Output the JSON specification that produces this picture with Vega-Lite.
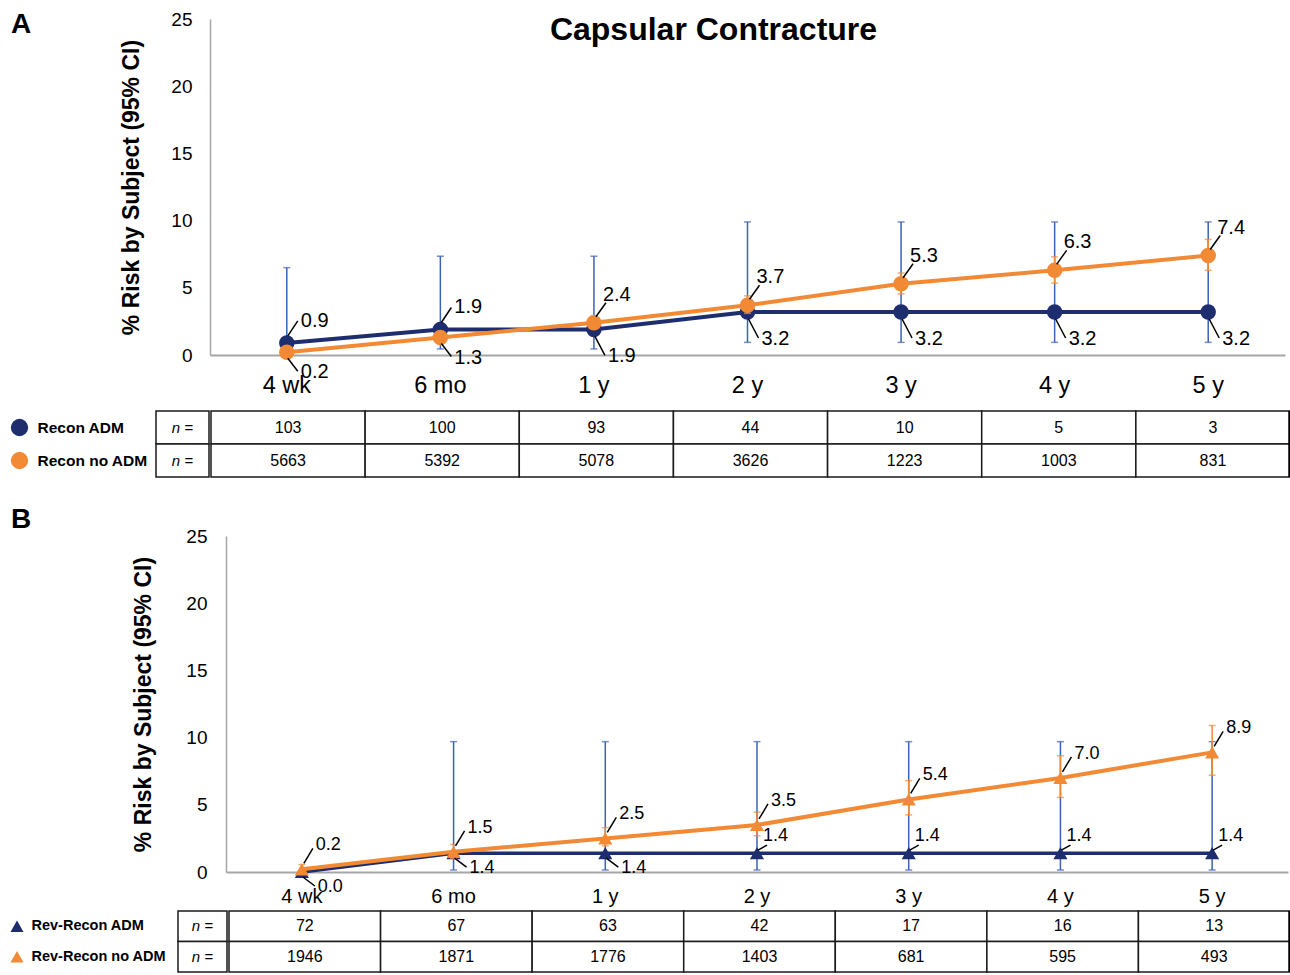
{
  "$schema": "https://vega.github.io/schema/vega-lite/v6.json",
  "padding": {"left": 10, "top": 10, "right": 0, "bottom": 0},
  "autosize": {"type": "pad"},
  "datasets": {
    "riskA": [
      {"period": "4 wk", "series": "Recon ADM", "value": 0.9, "lo": 0.02, "hi": 6.5},
      {"period": "6 mo", "series": "Recon ADM", "value": 1.9, "lo": 0.45, "hi": 7.35},
      {"period": "1 y", "series": "Recon ADM", "value": 1.9, "lo": 0.45, "hi": 7.35},
      {"period": "2 y", "series": "Recon ADM", "value": 3.2, "lo": 0.94, "hi": 9.9},
      {"period": "3 y", "series": "Recon ADM", "value": 3.2, "lo": 0.94, "hi": 9.9},
      {"period": "4 y", "series": "Recon ADM", "value": 3.2, "lo": 0.94, "hi": 9.9},
      {"period": "5 y", "series": "Recon ADM", "value": 3.2, "lo": 0.94, "hi": 9.9},
      {"period": "4 wk", "series": "Recon no ADM", "value": 0.2, "lo": 0.1, "hi": 0.4},
      {"period": "6 mo", "series": "Recon no ADM", "value": 1.3, "lo": 1.0, "hi": 1.7},
      {"period": "1 y", "series": "Recon no ADM", "value": 2.4, "lo": 2.0, "hi": 2.9},
      {"period": "2 y", "series": "Recon no ADM", "value": 3.7, "lo": 3.1, "hi": 4.4},
      {"period": "3 y", "series": "Recon no ADM", "value": 5.3, "lo": 4.55, "hi": 6.1},
      {"period": "4 y", "series": "Recon no ADM", "value": 6.3, "lo": 5.35, "hi": 7.3},
      {"period": "5 y", "series": "Recon no ADM", "value": 7.4, "lo": 6.3, "hi": 8.6}
    ],
    "riskB": [
      {"period": "4 wk", "series": "Rev-Recon ADM", "value": 0.0, "lo": null, "hi": null},
      {"period": "6 mo", "series": "Rev-Recon ADM", "value": 1.4, "lo": 0.15, "hi": 9.7},
      {"period": "1 y", "series": "Rev-Recon ADM", "value": 1.4, "lo": 0.15, "hi": 9.7},
      {"period": "2 y", "series": "Rev-Recon ADM", "value": 1.4, "lo": 0.15, "hi": 9.7},
      {"period": "3 y", "series": "Rev-Recon ADM", "value": 1.4, "lo": 0.15, "hi": 9.7},
      {"period": "4 y", "series": "Rev-Recon ADM", "value": 1.4, "lo": 0.15, "hi": 9.7},
      {"period": "5 y", "series": "Rev-Recon ADM", "value": 1.4, "lo": 0.15, "hi": 9.7},
      {"period": "4 wk", "series": "Rev-Recon no ADM", "value": 0.2, "lo": 0.05, "hi": 0.55},
      {"period": "6 mo", "series": "Rev-Recon no ADM", "value": 1.5, "lo": 1.0, "hi": 2.05},
      {"period": "1 y", "series": "Rev-Recon no ADM", "value": 2.5, "lo": 1.95, "hi": 3.3},
      {"period": "2 y", "series": "Rev-Recon no ADM", "value": 3.5, "lo": 2.7, "hi": 4.45},
      {"period": "3 y", "series": "Rev-Recon no ADM", "value": 5.4, "lo": 4.25, "hi": 6.8},
      {"period": "4 y", "series": "Rev-Recon no ADM", "value": 7.0, "lo": 5.55, "hi": 8.65},
      {"period": "5 y", "series": "Rev-Recon no ADM", "value": 8.9, "lo": 7.2, "hi": 10.9}
    ],
    "nA": [
      {"period": "4 wk", "series": "Recon ADM", "n": 103},
      {"period": "6 mo", "series": "Recon ADM", "n": 100},
      {"period": "1 y", "series": "Recon ADM", "n": 93},
      {"period": "2 y", "series": "Recon ADM", "n": 44},
      {"period": "3 y", "series": "Recon ADM", "n": 10},
      {"period": "4 y", "series": "Recon ADM", "n": 5},
      {"period": "5 y", "series": "Recon ADM", "n": 3},
      {"period": "4 wk", "series": "Recon no ADM", "n": 5663},
      {"period": "6 mo", "series": "Recon no ADM", "n": 5392},
      {"period": "1 y", "series": "Recon no ADM", "n": 5078},
      {"period": "2 y", "series": "Recon no ADM", "n": 3626},
      {"period": "3 y", "series": "Recon no ADM", "n": 1223},
      {"period": "4 y", "series": "Recon no ADM", "n": 1003},
      {"period": "5 y", "series": "Recon no ADM", "n": 831}
    ],
    "nB": [
      {"period": "4 wk", "series": "Rev-Recon ADM", "n": 72},
      {"period": "6 mo", "series": "Rev-Recon ADM", "n": 67},
      {"period": "1 y", "series": "Rev-Recon ADM", "n": 63},
      {"period": "2 y", "series": "Rev-Recon ADM", "n": 42},
      {"period": "3 y", "series": "Rev-Recon ADM", "n": 17},
      {"period": "4 y", "series": "Rev-Recon ADM", "n": 16},
      {"period": "5 y", "series": "Rev-Recon ADM", "n": 13},
      {"period": "4 wk", "series": "Rev-Recon no ADM", "n": 1946},
      {"period": "6 mo", "series": "Rev-Recon no ADM", "n": 1871},
      {"period": "1 y", "series": "Rev-Recon no ADM", "n": 1776},
      {"period": "2 y", "series": "Rev-Recon no ADM", "n": 1403},
      {"period": "3 y", "series": "Rev-Recon no ADM", "n": 681},
      {"period": "4 y", "series": "Rev-Recon no ADM", "n": 595},
      {"period": "5 y", "series": "Rev-Recon no ADM", "n": 493}
    ]
  },
  "spacing": 27,
  "vconcat": [
    {
      "spacing": 12,
      "vconcat": [
        {
          "spacing": 84,
          "hconcat": [
            {
              "width": 25, "height": 336,
              "data": {"name": "riskA"},
              "transform": [{"filter": "datum.period == '4 wk' && datum.series == 'Recon ADM'"}],
              "title": {"text": "A", "anchor": "start", "frame": "group", "offset": -19.5, "fontSize": 28, "fontWeight": "bold"},
              "mark": {"type": "rect", "opacity": 0}
            },
            {
              "width": 1075,
              "height": 336,
              "title": {"text": "Capsular Contracture", "anchor": "middle", "frame": "group", "dx": -34, "offset": -37, "fontSize": 32, "fontWeight": "bold"},
              "data": {"name": "riskA"},
              "encoding": {
                "x": {"field": "period", "type": "nominal", "sort": ["4 wk", "6 mo", "1 y", "2 y", "3 y", "4 y", "5 y"], "scale": {"paddingInner": 0, "paddingOuter": 0},
                  "axis": {"title": null, "labelAngle": 0, "labelFontSize": 23.5, "labelPadding": 18, "ticks": false, "domainColor": "#a6a6a6", "domainWidth": 2}},
                "y": {"field": "value", "type": "quantitative", "scale": {"domain": [0, 25]},
                  "axis": {"title": "% Risk by Subject (95% CI)", "titleFontSize": 23, "titleFontWeight": "bold", "titlePadding": 27, "values": [0, 5, 10, 15, 20, 25], "grid": false, "ticks": false, "labelFontSize": 19, "labelPadding": 18, "domainColor": "#a6a6a6", "domainWidth": 1.5}}
              },
              "layer": [
                {"transform": [{"filter": "datum.series == 'Recon ADM'"}], "mark": {"type": "errorbar", "ticks": {"size": 7}, "thickness": 1.5, "color": "#3a63b5"},
                  "encoding": {"y": {"field": "lo", "type": "quantitative", "title": "% Risk by Subject (95% CI)"}, "y2": {"field": "hi"}}},
                {"transform": [{"filter": "datum.series == 'Recon ADM'"}], "mark": {"type": "line", "strokeWidth": 4, "color": "#1d2d6e"}},
                {"transform": [{"filter": "datum.series == 'Recon ADM'"}], "mark": {"type": "point", "filled": true, "opacity": 1, "size": 240, "shape": "circle", "color": "#1d2d6e"}},
                {"transform": [{"filter": "datum.series == 'Recon no ADM'"}], "mark": {"type": "line", "strokeWidth": 4, "color": "#f28a35"}},
                {"transform": [{"filter": "datum.series == 'Recon no ADM'"}], "mark": {"type": "point", "filled": true, "opacity": 1, "size": 240, "shape": "circle", "color": "#f28a35"}},
                {"transform": [{"filter": "datum.series == 'Recon no ADM'"}], "mark": {"type": "errorbar", "ticks": {"size": 7}, "thickness": 1.5, "color": "#f28a35"},
                  "encoding": {"y": {"field": "lo", "type": "quantitative", "title": "% Risk by Subject (95% CI)"}, "y2": {"field": "hi"}}},
                {"transform": [{"filter": "datum.series == 'Recon ADM' && indexof(['4 wk','6 mo'], datum.period) >= 0"}],
                  "mark": {"type": "rule", "color": "black", "strokeWidth": 1.5, "xOffset": 1, "yOffset": -7, "x2Offset": 11, "y2Offset": -22},
                  "encoding": {"x2": {"field": "period"}, "y2": {"field": "value"}}},
                {"transform": [{"filter": "datum.series == 'Recon ADM' && indexof(['4 wk','6 mo'], datum.period) < 0"}],
                  "mark": {"type": "rule", "color": "black", "strokeWidth": 1.5, "xOffset": 1, "yOffset": 7, "x2Offset": 11, "y2Offset": 26},
                  "encoding": {"x2": {"field": "period"}, "y2": {"field": "value"}}},
                {"transform": [{"filter": "datum.series == 'Recon no ADM' && indexof(['4 wk','6 mo'], datum.period) >= 0"}],
                  "mark": {"type": "rule", "color": "black", "strokeWidth": 1.5, "xOffset": 1, "yOffset": 6, "x2Offset": 11, "y2Offset": 19},
                  "encoding": {"x2": {"field": "period"}, "y2": {"field": "value"}}},
                {"transform": [{"filter": "datum.series == 'Recon no ADM' && indexof(['4 wk','6 mo'], datum.period) < 0"}],
                  "mark": {"type": "rule", "color": "black", "strokeWidth": 1.5, "xOffset": 2, "yOffset": -6, "x2Offset": 12, "y2Offset": -20},
                  "encoding": {"x2": {"field": "period"}, "y2": {"field": "value"}}},
                {"transform": [{"filter": "datum.series == 'Recon ADM' && indexof(['4 wk','6 mo'], datum.period) >= 0"}], "mark": {"type": "text", "align": "left", "dx": 14, "dy": -22, "fontSize": 20},
                  "encoding": {"text": {"field": "value", "type": "quantitative", "format": ".1f"}}},
                {"transform": [{"filter": "datum.series == 'Recon ADM' && indexof(['4 wk','6 mo'], datum.period) < 0"}], "mark": {"type": "text", "align": "left", "dx": 14, "dy": 27, "fontSize": 20},
                  "encoding": {"text": {"field": "value", "type": "quantitative", "format": ".1f"}}},
                {"transform": [{"filter": "datum.series == 'Recon no ADM' && indexof(['4 wk','6 mo'], datum.period) >= 0"}], "mark": {"type": "text", "align": "left", "dx": 14, "dy": 20, "fontSize": 20},
                  "encoding": {"text": {"field": "value", "type": "quantitative", "format": ".1f"}}},
                {"transform": [{"filter": "datum.series == 'Recon no ADM' && indexof(['4 wk','6 mo'], datum.period) < 0"}], "mark": {"type": "text", "align": "left", "dx": 9, "dy": -28, "fontSize": 20},
                  "encoding": {"text": {"field": "value", "type": "quantitative", "format": ".1f"}}}
              ]
            }
          ]
        },
        {
          "spacing": 8,
          "hconcat": [
            {
              "width": 17, "height": 66,
              "data": {"name": "nA"},
              "transform": [{"filter": "datum.period == '4 wk'"}],
              "mark": {"type": "point", "filled": true, "opacity": 1, "size": 300, "shape": "circle"},
              "encoding": {
                "y": {"field": "series", "type": "nominal", "sort": ["Recon ADM", "Recon no ADM"], "scale": {"paddingInner": 0, "paddingOuter": 0}, "axis": null},
                "color": {"condition": {"test": "datum.series == 'Recon ADM'", "value": "#1d2d6e"}, "value": "#f28a35"}
              }
            },
            {
              "spacing": 0,
              "hconcat": [
                {
                  "width": 53, "height": 66,
                  "data": {"name": "nA"},
                  "transform": [{"filter": "datum.period == '4 wk'"}],
                  "encoding": {
                    "y": {"field": "series", "type": "nominal", "sort": ["Recon ADM", "Recon no ADM"], "scale": {"paddingInner": 0, "paddingOuter": 0},
                      "axis": {"title": null, "domain": false, "ticks": false, "labelAlign": "left", "labelPadding": 119, "labelFontSize": 15.5, "labelFontWeight": "bold"}}
                  },
                  "layer": [
                    {"mark": {"type": "rect", "fill": "white", "stroke": "#1a1a1a", "strokeWidth": 1.5}},
                    {"mark": {"type": "text", "text": "n =", "fontStyle": "italic", "fontSize": 15}}
                  ]
                },
                {
                  "width": 1079, "height": 66,
                  "data": {"name": "nA"},
                  "layer": [
                    {"mark": {"type": "rect", "fill": "white", "stroke": "#1a1a1a", "strokeWidth": 1.5},
                      "encoding": {
                        "x": {"field": "period", "type": "nominal", "sort": ["4 wk", "6 mo", "1 y", "2 y", "3 y", "4 y", "5 y"], "scale": {"paddingInner": 0, "paddingOuter": 0}, "axis": null},
                        "y": {"field": "series", "type": "nominal", "sort": ["Recon ADM", "Recon no ADM"], "scale": {"paddingInner": 0, "paddingOuter": 0}, "axis": null}
                      }},
                    {"mark": {"type": "text", "fontSize": 16},
                      "encoding": {
                        "x": {"field": "period", "type": "nominal", "sort": ["4 wk", "6 mo", "1 y", "2 y", "3 y", "4 y", "5 y"], "axis": null},
                        "y": {"field": "series", "type": "nominal", "sort": ["Recon ADM", "Recon no ADM"], "axis": null},
                        "text": {"field": "n", "type": "quantitative", "format": "d"}
                      }},
                    {"transform": [{"filter": "datum.period == '5 y' && datum.series == 'Recon ADM'"}],
                      "mark": {"type": "rule", "strokeWidth": 3.5, "color": "black"},
                      "encoding": {"x": {"field": "period", "type": "nominal", "sort": ["4 wk", "6 mo", "1 y", "2 y", "3 y", "4 y", "5 y"], "bandPosition": 1, "axis": null}}}
                  ]
                }
              ]
            }
          ]
        }
      ]
    },
    {
      "spacing": 3,
      "vconcat": [
        {
          "spacing": 96,
          "hconcat": [
            {
              "width": 25, "height": 336,
              "data": {"name": "riskB"},
              "transform": [{"filter": "datum.period == '4 wk' && datum.series == 'Rev-Recon ADM'"}],
              "title": {"text": "B", "anchor": "start", "frame": "group", "offset": 2, "fontSize": 28, "fontWeight": "bold"},
              "mark": {"type": "rect", "opacity": 0}
            },
            {
              "width": 1062,
              "height": 336,
              "data": {"name": "riskB"},
              "encoding": {
                "x": {"field": "period", "type": "nominal", "sort": ["4 wk", "6 mo", "1 y", "2 y", "3 y", "4 y", "5 y"], "scale": {"paddingInner": 0, "paddingOuter": 0},
                  "axis": {"title": null, "labelAngle": 0, "labelFontSize": 20, "labelPadding": 14, "ticks": false, "domainColor": "#a6a6a6", "domainWidth": 2}},
                "y": {"field": "value", "type": "quantitative", "scale": {"domain": [0, 25]},
                  "axis": {"title": "% Risk by Subject (95% CI)", "titleFontSize": 23, "titleFontWeight": "bold", "titlePadding": 30, "values": [0, 5, 10, 15, 20, 25], "grid": false, "ticks": false, "labelFontSize": 19, "labelPadding": 19, "domainColor": "#a6a6a6", "domainWidth": 1.5}}
              },
              "layer": [
                {"transform": [{"filter": "datum.series == 'Rev-Recon ADM' && isValid(datum.lo)"}], "mark": {"type": "errorbar", "ticks": {"size": 7}, "thickness": 1.5, "color": "#3a63b5"},
                  "encoding": {"y": {"field": "lo", "type": "quantitative", "title": "% Risk by Subject (95% CI)"}, "y2": {"field": "hi"}}},
                {"transform": [{"filter": "datum.series == 'Rev-Recon ADM'"}], "mark": {"type": "line", "strokeWidth": 3.5, "color": "#1d2d6e"}},
                {"transform": [{"filter": "datum.series == 'Rev-Recon ADM'"}], "mark": {"type": "point", "filled": true, "opacity": 1, "size": 200, "shape": "triangle-up", "color": "#1d2d6e"}},
                {"transform": [{"filter": "datum.series == 'Rev-Recon no ADM'"}], "mark": {"type": "line", "strokeWidth": 4, "color": "#f28a35"}},
                {"transform": [{"filter": "datum.series == 'Rev-Recon no ADM'"}], "mark": {"type": "point", "filled": true, "opacity": 1, "size": 200, "shape": "triangle-up", "color": "#f28a35"}},
                {"transform": [{"filter": "datum.series == 'Rev-Recon no ADM'"}], "mark": {"type": "errorbar", "ticks": {"size": 7}, "thickness": 1.5, "color": "#f28a35"},
                  "encoding": {"y": {"field": "lo", "type": "quantitative", "title": "% Risk by Subject (95% CI)"}, "y2": {"field": "hi"}}},
                {"transform": [{"filter": "datum.series == 'Rev-Recon ADM' && indexof(['4 wk','6 mo','1 y'], datum.period) >= 0"}],
                  "mark": {"type": "rule", "color": "black", "strokeWidth": 1.5, "xOffset": 1, "yOffset": 5, "x2Offset": 13, "y2Offset": 14},
                  "encoding": {"x2": {"field": "period"}, "y2": {"field": "value"}}},
                {"transform": [{"filter": "datum.series == 'Rev-Recon ADM' && indexof(['4 wk','6 mo','1 y'], datum.period) < 0"}],
                  "mark": {"type": "rule", "color": "black", "strokeWidth": 1.5, "xOffset": 1, "yOffset": -3, "x2Offset": 10, "y2Offset": -8},
                  "encoding": {"x2": {"field": "period"}, "y2": {"field": "value"}}},
                {"transform": [{"filter": "datum.series == 'Rev-Recon no ADM'"}],
                  "mark": {"type": "rule", "color": "black", "strokeWidth": 1.5, "xOffset": 2, "yOffset": -6, "x2Offset": 11, "y2Offset": -21},
                  "encoding": {"x2": {"field": "period"}, "y2": {"field": "value"}}},
                {"transform": [{"filter": "datum.series == 'Rev-Recon ADM' && indexof(['4 wk','6 mo','1 y'], datum.period) >= 0"}], "mark": {"type": "text", "align": "left", "dx": 16, "dy": 15, "fontSize": 18},
                  "encoding": {"text": {"field": "value", "type": "quantitative", "format": ".1f"}}},
                {"transform": [{"filter": "datum.series == 'Rev-Recon ADM' && indexof(['4 wk','6 mo','1 y'], datum.period) < 0"}], "mark": {"type": "text", "align": "left", "dx": 6, "dy": -17, "fontSize": 18},
                  "encoding": {"text": {"field": "value", "type": "quantitative", "format": ".1f"}}},
                {"transform": [{"filter": "datum.series == 'Rev-Recon no ADM'"}], "mark": {"type": "text", "align": "left", "dx": 14, "dy": -24, "fontSize": 18},
                  "encoding": {"text": {"field": "value", "type": "quantitative", "format": ".1f"}}}
              ]
            }
          ]
        },
        {
          "spacing": 7,
          "hconcat": [
            {
              "width": 12, "height": 61,
              "data": {"name": "nB"},
              "transform": [{"filter": "datum.period == '4 wk'"}],
              "mark": {"type": "point", "filled": true, "opacity": 1, "size": 170, "shape": "triangle-up"},
              "encoding": {
                "y": {"field": "series", "type": "nominal", "sort": ["Rev-Recon ADM", "Rev-Recon no ADM"], "scale": {"paddingInner": 0, "paddingOuter": 0}, "axis": null},
                "color": {"condition": {"test": "datum.series == 'Rev-Recon ADM'", "value": "#1d2d6e"}, "value": "#f28a35"}
              }
            },
            {
              "spacing": 0,
              "hconcat": [
                {
                  "width": 49, "height": 61,
                  "data": {"name": "nB"},
                  "transform": [{"filter": "datum.period == '4 wk'"}],
                  "encoding": {
                    "y": {"field": "series", "type": "nominal", "sort": ["Rev-Recon ADM", "Rev-Recon no ADM"], "scale": {"paddingInner": 0, "paddingOuter": 0},
                      "axis": {"title": null, "domain": false, "ticks": false, "labelAlign": "left", "labelPadding": 147, "labelFontSize": 14.5, "labelFontWeight": "bold"}}
                  },
                  "layer": [
                    {"mark": {"type": "rect", "fill": "white", "stroke": "#1a1a1a", "strokeWidth": 1.5}},
                    {"mark": {"type": "text", "text": "n =", "fontStyle": "italic", "fontSize": 15}}
                  ]
                },
                {
                  "width": 1061, "height": 61,
                  "data": {"name": "nB"},
                  "layer": [
                    {"mark": {"type": "rect", "fill": "white", "stroke": "#1a1a1a", "strokeWidth": 1.5},
                      "encoding": {
                        "x": {"field": "period", "type": "nominal", "sort": ["4 wk", "6 mo", "1 y", "2 y", "3 y", "4 y", "5 y"], "scale": {"paddingInner": 0, "paddingOuter": 0}, "axis": null},
                        "y": {"field": "series", "type": "nominal", "sort": ["Rev-Recon ADM", "Rev-Recon no ADM"], "scale": {"paddingInner": 0, "paddingOuter": 0}, "axis": null}
                      }},
                    {"mark": {"type": "text", "fontSize": 16},
                      "encoding": {
                        "x": {"field": "period", "type": "nominal", "sort": ["4 wk", "6 mo", "1 y", "2 y", "3 y", "4 y", "5 y"], "axis": null},
                        "y": {"field": "series", "type": "nominal", "sort": ["Rev-Recon ADM", "Rev-Recon no ADM"], "axis": null},
                        "text": {"field": "n", "type": "quantitative", "format": "d"}
                      }},
                    {"transform": [{"filter": "datum.period == '5 y' && datum.series == 'Rev-Recon ADM'"}],
                      "mark": {"type": "rule", "strokeWidth": 3.5, "color": "black"},
                      "encoding": {"x": {"field": "period", "type": "nominal", "sort": ["4 wk", "6 mo", "1 y", "2 y", "3 y", "4 y", "5 y"], "bandPosition": 1, "axis": null}}}
                  ]
                }
              ]
            }
          ]
        }
      ]
    }
  ],
  "config": {
    "view": {"stroke": null},
    "font": "Liberation Sans",
    "axis": {"labelColor": "#000", "titleColor": "#000", "labelFont": "Liberation Sans", "titleFont": "Liberation Sans"},
    "title": {"color": "#000", "font": "Liberation Sans"},
    "text": {"color": "#000"}
  }
}
